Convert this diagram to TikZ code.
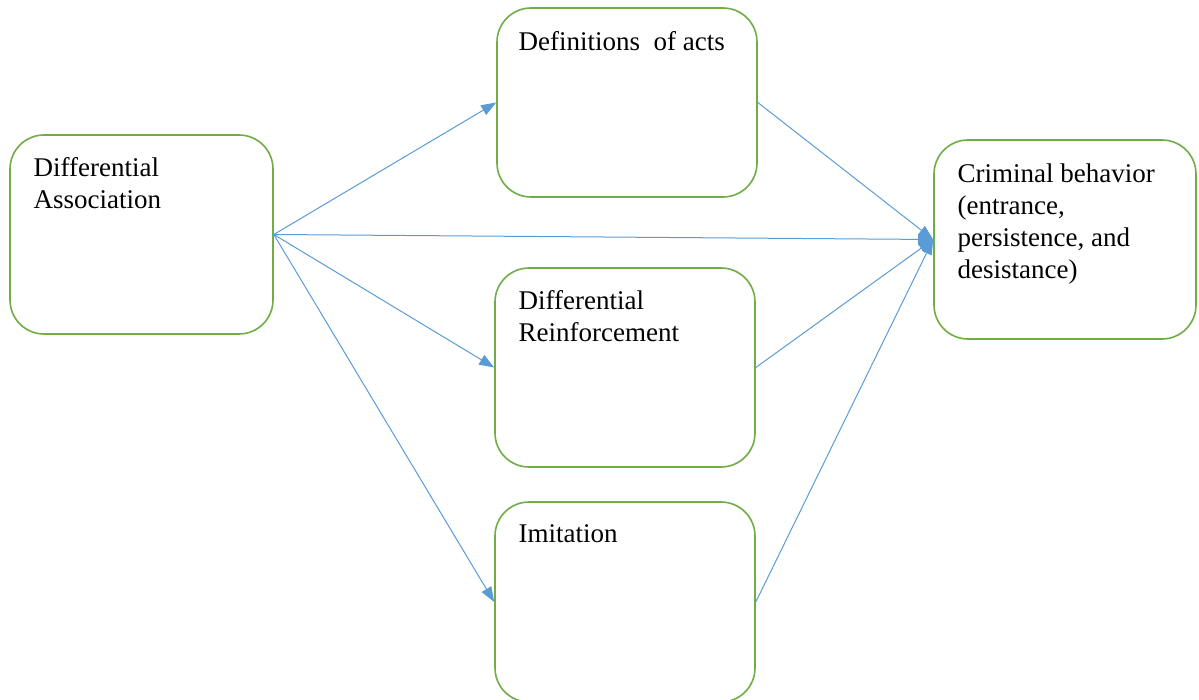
\documentclass[tikz,border=0pt]{standalone}
\usepackage{fontspec}
\setmainfont{Liberation Serif}
\usetikzlibrary{arrows.meta}

\definecolor{boxgreen}{HTML}{70AD47}
\definecolor{arrowblue}{HTML}{5B9BD5}

\tikzset{
  factor/.style={draw=boxgreen, line width=0.8pt, rounded corners=17pt, fill=white},
  factortext/.style={anchor=north west, inner sep=0pt, align=left, font=\fontsize{13.5}{16}\selectfont},
  link/.style={draw=arrowblue, line width=0.5pt, -{Triangle[length=7.5pt,width=5.5pt]}}
}

\begin{document}
\begin{tikzpicture}[x=0.5pt, y=-0.5pt]

    \useasboundingbox (0,0) rectangle (1199,700);

    % boxes
    \node[factor, minimum width=131.5pt, minimum height=99.5pt] (assoc) at (141.5,234.5) {};

    \node[factor, minimum width=130pt, minimum height=94.5pt] (defs) at (627,102.5) {};

    \node[factor, minimum width=130pt, minimum height=99.5pt] (reinf) at (625,367.5) {};

    \node[factor, minimum width=130pt, minimum height=100pt] (imit) at (625,602) {};

    \node[factor, minimum width=131pt, minimum height=99.5pt] (crim) at (1065,239.5) {};

    % texts
    \node[factortext] (assocText) at ([shift={(12pt,-11.5pt)}]assoc.north west) {Differential\\Association};

    \node[factortext] (defsText) at ([shift={(11pt,-12pt)}]defs.north west) {Definitions\ \ of acts};

    \node[factortext] (reinfText) at ([shift={(12pt,-11.5pt)}]reinf.north west) {Differential\\Reinforcement};

    \node[factortext] (imitText) at ([shift={(12pt,-11.5pt)}]imit.north west) {Imitation};

    \node[factortext] (crimText) at ([shift={(12pt,-12pt)}]crim.north west) {Criminal behavior\\(entrance,\\persistence, and\\desistance)};

    % arrows
    \draw[link] (assoc.east) -- (defs.west);
    \draw[link] (assoc.east) -- (crim.west);
    \draw[link] (assoc.east) -- (reinf.west);
    \draw[link] (assoc.east) -- (imit.west);

    \draw[link] (defs.east) -- (crim.west);
    \draw[link] (reinf.east) -- (crim.west);
    \draw[link] (imit.east) -- (crim.west);

\end{tikzpicture}
\end{document}
